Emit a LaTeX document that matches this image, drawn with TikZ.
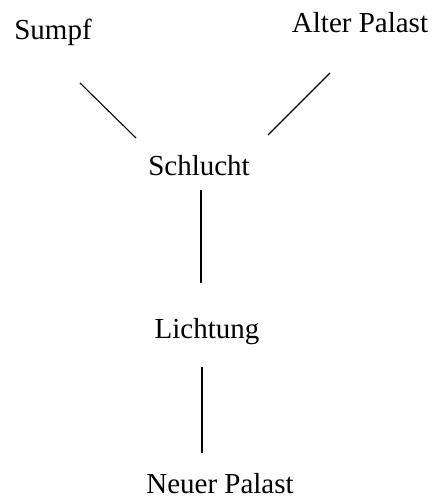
\documentclass[tikz,border=0pt]{standalone}
\usepackage{fontspec}
\setmainfont{Liberation Serif}
\begin{document}
\begin{tikzpicture}[x=1pt,y=-1pt,
  place/.style={anchor=base,inner sep=0pt,font=\fontsize{29}{31}\selectfont},
  link/.style={draw=black,line width=1.1pt}]
\useasboundingbox (0,0) rectangle (437,500);
\node[place] (sumpf) at (53,40) {Sumpf};
\node[place] (alter) at (360,33) {Alter Palast};
\node[place] (schlucht) at (199,175) {Schlucht};
\node[place] (lichtung) at (207,338) {Lichtung};
\node[place] (neuer) at (220,493) {Neuer Palast};
\draw[link] ([shift={(27,43)}]sumpf.base) -- ([shift={(-63,-37)}]schlucht.base);
\draw[link] ([shift={(-30,40)}]alter.base) -- ([shift={(69,-40)}]schlucht.base);
\draw[link] ([shift={(2,15)}]schlucht.base) -- ([shift={(-6,-55)}]lichtung.base);
\draw[link] ([shift={(-5,29)}]lichtung.base) -- ([shift={(-18,-40)}]neuer.base);
\end{tikzpicture}
\end{document}
